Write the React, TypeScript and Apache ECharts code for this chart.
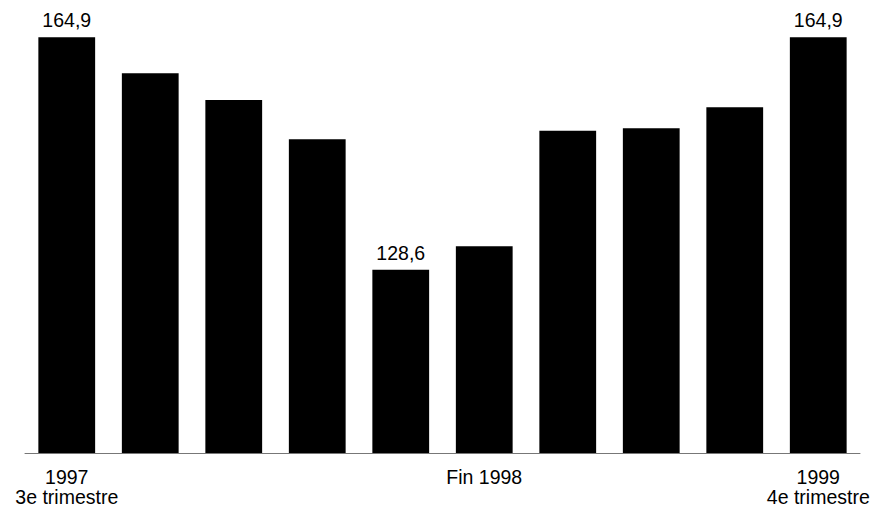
import React, { useEffect, useRef } from "react";
import * as echarts from "echarts";

const categories = ["1997\n3e trimestre", "", "", "", "", "Fin 1998", "", "", "", "1999\n4e trimestre"];
const values = [164.9, 159.3, 155.1, 149.0, 128.6, 132.3, 150.3, 150.7, 154.0, 164.9];
const labelledIndices = [0, 4, 9];

export default function App() {
  const ref = useRef<HTMLDivElement>(null);
  useEffect(() => {
    const chart = echarts.init(ref.current!, null, { renderer: "svg" });
    chart.setOption({
      animation: false,
      grid: { left: 25, right: 20, top: 36.7, bottom: 57 },
      xAxis: {
        type: "category",
        data: categories,
        axisLine: { show: true, lineStyle: { color: "#777", width: 1 } },
        axisTick: { show: false },
        axisLabel: {
          interval: 0,
          margin: 14,
          color: "#000",
          fontFamily: "Liberation Sans, Arial, sans-serif",
          fontSize: 19.5,
          lineHeight: 20,
        },
      },
      yAxis: {
        type: "value",
        min: 100,
        max: 165,
        show: false,
        splitLine: { show: false },
      },
      series: [
        {
          type: "bar",
          barWidth: "68%",
          data: values.map((v, i) => ({
            value: v,
            label: {
              show: labelledIndices.includes(i),
              position: "top",
              distance: 7,
              color: "#000",
              fontFamily: "Liberation Sans, Arial, sans-serif",
              fontSize: 19.5,
              formatter: (p: any) => String(p.value.toFixed(1)).replace(".", ","),
            },
          })),
          itemStyle: { color: "#000" },
        },
      ],
    });
    return () => chart.dispose();
  }, []);
  return <div ref={ref} style={{ width: 880, height: 510, position: "absolute", left: 0, top: 0 }} />;
}
